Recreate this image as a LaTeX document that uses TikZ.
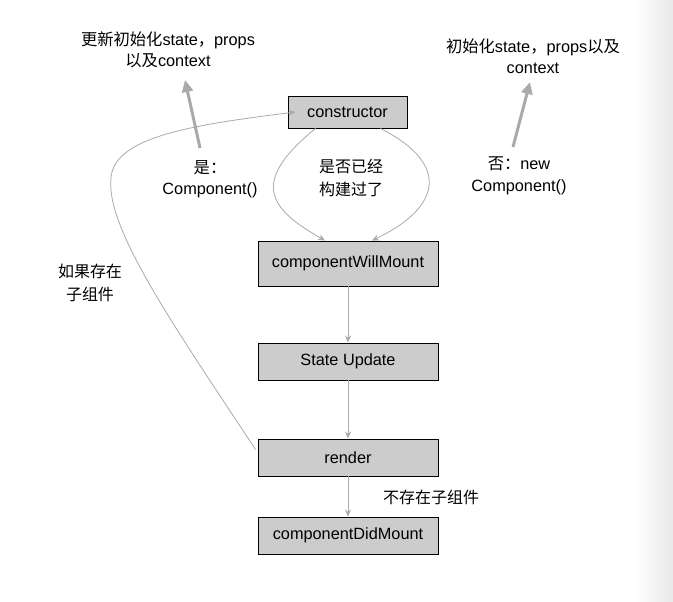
\documentclass[tikz,border=0pt]{standalone}
\usepackage{fontspec}
\setmainfont{Liberation Sans}
\newfontfamily\cjk{Noto Sans CJK SC}
\usepackage{tikz}
\usetikzlibrary{arrows.meta,positioning}

\definecolor{linegray}{HTML}{AAAAAA}
\definecolor{boxgray}{HTML}{CCCCCC}

\begin{document}
\begin{tikzpicture}[x=1pt,y=-1pt,
    stage/.style={draw=black, fill=boxgray, line width=0.9pt, minimum width=180pt, minimum height=37pt, inner sep=0pt, font=\fontsize{16.3}{19}\selectfont},
    note/.style={align=center, font=\fontsize{16.3}{21.5}\selectfont, inner sep=0pt},
    cnote/.style={note, font=\fontsize{16}{22.5}\selectfont\cjk},
    flow/.style={draw=linegray, line width=0.8pt, -{Stealth[length=7pt,width=6pt]}},
    fat/.style={draw=linegray, line width=3pt, -{Triangle[length=12pt,width=11pt]}}]
  \useasboundingbox (0,0) rectangle (673,602);
  \fill[white] (0,0) rectangle (673,602);
  \shade[left color=white, right color=black!9] (636,0) rectangle (673,602);

  \node[stage, minimum width=119pt, minimum height=32pt] (ctor) at (347.5,112) {constructor};
  \node[stage, minimum height=45pt] (willmount) at (348,263.5) {componentWillMount};
  \node[stage] (update) at (348,361.5) {State Update};
  \node[stage] (render) at (348,457.5) {render};
  \node[stage] (didmount) at (348,535.5) {componentDidMount};

  \node[note] (updtxt) at (168,50) {{\cjk 更新初始化}state{\cjk ，}props\\{\cjk 以及}context};
  \node[note] (inittxt) at (533,56) {{\cjk 初始化}state{\cjk ，}props{\cjk 以及}\\context};
  \node[note] (yes) at (210,179) {{\cjk 是：}\\Component()};
  \node[note] (no) at (519,176) {{\cjk 否：}new\\Component()};
  \node[cnote] (built) at (351,178) {是否已经\\构建过了};
  \node[cnote] (haschild) at (90,283) {如果存在\\子组件};
  \node[cnote] (nochild) at (431,497) {不存在子组件};

  \coordinate (yesfrom) at (200,148);
  \coordinate (yesto) at (185,80);
  \coordinate (nofrom) at (513,147);
  \coordinate (noto) at (530,82);
  \draw[fat] (yesfrom) -- (yesto);
  \draw[fat] (nofrom) -- (noto);

  \draw[flow] ([xshift=-32pt]ctor.south) .. controls (250,182) and (268,208) .. ([xshift=-23pt]willmount.north);
  \draw[flow] ([xshift=33pt]ctor.south) .. controls (452,165) and (440,208) .. ([xshift=24pt]willmount.north);
  \draw[flow] (willmount) -- (update);
  \draw[flow] (update) -- (render);
  \draw[flow] (render) -- (didmount);
  \draw[flow] ([xshift=-2pt,yshift=8pt]render.west) .. controls (170,320) and (100,220) .. (112,172)
    .. controls (122,135) and (200,124) .. ([xshift=8pt]ctor.west);
\end{tikzpicture}
\end{document}
